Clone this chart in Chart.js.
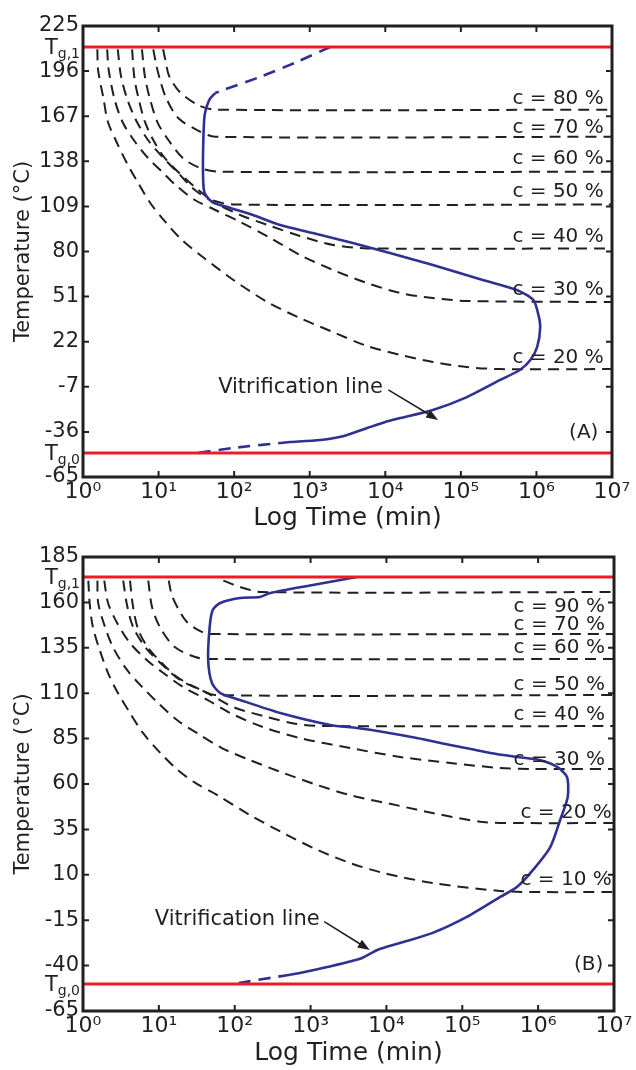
<!DOCTYPE html>
<html>
<head>
<meta charset="utf-8">
<script src="https://cdn.jsdelivr.net/npm/chart.js@4.4.1/dist/chart.umd.min.js"></script>
<style>
  body { margin: 0; background: #fff; }
  #wrap { position: relative; width: 636px; height: 1070px; }
  .box { position: absolute; left: 0; width: 636px; height: 535px; }
</style>
</head>
<body>
<div id="wrap">
  <div class="box" style="top:0"><canvas id="chartA"></canvas></div>
  <div class="box" style="top:535px"><canvas id="chartB"></canvas></div>
</div>
<script>
// x is log10(time / min), y is temperature in °C
const timeTicks = [0, 1, 2, 3, 4, 5, 6, 7];
const tempTicksA = [-65, -36, -7, 22, 51, 80, 109, 138, 167, 196, 225];
const tempTicksB = [-65, -40, -15, 10, 35, 60, 85, 110, 135, 160, 185];
const tgA = [-49.6, 211.5];   // Tg,0 / Tg,1
const tgB = [-50.1, 174.0];

// panel A: iso-conversion curves
const a20 = [[0.19,210],[0.20,196.7],[0.27,178.7],[0.33,163.3],[0.45,149.8],[0.58,136.9],[0.73,124.0],[0.89,111.2],[1.09,99.0],[1.31,87.4],[1.55,77.8],[1.99,61.7],[2.44,47.5],[2.87,37.2],[3.31,28.2],[3.76,19.2],[4.20,13.5],[4.63,9.0],[5.08,5.7],[5.52,4.4],[7,4.4]];
const a30 = [[0.32,210],[0.34,196.7],[0.42,177.4],[0.53,162.6],[0.69,150.4],[0.86,140.1],[1.05,131.1],[1.24,122.1],[1.48,113.1],[1.75,106.7],[2.08,99.0],[2.48,88.7],[2.87,77.8],[3.31,68.1],[3.76,59.7],[4.20,53.3],[4.63,50.1],[5.08,48.2],[7,47.5]];
const a40 = [[0.46,210],[0.50,193.5],[0.58,178.7],[0.70,164.6],[0.86,151.7],[1.05,140.8],[1.26,130.5],[1.48,119.5],[1.75,111.2],[2.08,103.5],[2.48,96.4],[2.87,90.0],[3.31,84.2],[3.76,82.0],[7,82.0]];
const a50 = [[0.65,210],[0.68,191.6],[0.74,177.4],[0.82,163.3],[0.93,151.7],[1.07,140.8],[1.26,131.1],[1.48,121.5],[1.71,113.1],[2.01,110.2],[7,110.2]];
const a60 = [[0.78,210],[0.82,192.2],[0.89,177.4],[0.99,162.6],[1.13,151.7],[1.32,140.1],[1.55,133.7],[1.81,131.3],[7,131.3]];
const a70 = [[0.93,210],[0.97,199.9],[1.02,190.3],[1.10,178.7],[1.26,165.8],[1.51,158.1],[1.75,153.8],[7,153.8]];
const a80 = [[1.06,210],[1.09,203.1],[1.14,192.8],[1.28,182.6],[1.52,174.2],[1.75,171.2],[7,171.2]];

// panel A: vitrification line (solid part + dashed ends)
const vitA = [[1.75,181.9],[1.67,177.4],[1.61,167.8],[1.59,147.2],[1.59,126.0],[1.61,117.6],[1.71,111.8],[1.95,108.0],[2.25,103.5],[2.61,97.0],[3.04,91.9],[3.57,85.5],[4.06,79.0],[4.63,71.3],[5.29,61.7],[5.74,55.2],[5.96,48.8],[6.02,40.5],[6.05,31.5],[6.01,18.6],[5.92,10.2],[5.78,3.8],[5.52,-2.6],[5.08,-13.6],[4.63,-21.9],[4.20,-27.1],[4.00,-29.6],[3.76,-33.5],[3.44,-38.8],[3.14,-41.2],[2.74,-42.5]];
const vitAtop = [[3.27,211.5],[2.83,201.9],[2.34,192.2],[1.85,183.8],[1.75,181.9]];
const vitAbot = [[2.74,-42.5],[1.99,-46.3],[1.51,-49.6]];

// panel B: iso-conversion curves
const b10 = [[0.07,172],[0.09,158.6],[0.13,146.5],[0.22,133.8],[0.33,121.1],[0.46,110.1],[0.62,99.1],[0.79,88.1],[1.02,77.1],[1.25,67.7],[1.48,60.6],[1.77,53.9],[2.20,42.9],[2.64,33.0],[3.09,23.7],[3.52,16.5],[3.96,11.0],[4.61,5.5],[5.50,1.1],[6.02,0.5],[7,0.5]];
const b20 = [[0.19,172],[0.20,159.7],[0.29,146.5],[0.40,134.9],[0.58,122.8],[0.78,113.4],[0.99,104.6],[1.24,95.2],[1.50,88.1],[1.83,79.8],[2.20,73.2],[2.64,66.1],[3.09,59.4],[3.52,53.9],[4.18,47.9],[4.61,44.0],[5.27,39.1],[5.76,38.5],[7,38.5]];
const b30 = [[0.28,172],[0.33,159.7],[0.45,148.7],[0.62,137.6],[0.84,128.3],[1.06,121.1],[1.32,113.4],[1.64,106.3],[1.94,99.1],[2.37,91.4],[2.86,85.3],[3.52,79.8],[4.18,74.9],[4.84,71.6],[5.50,68.8],[5.89,68.3],[7,68.3]];
const b40 = [[0.53,172],[0.58,158.6],[0.66,146.5],[0.82,135.4],[1.02,126.6],[1.28,117.3],[1.64,110.1],[1.98,102.4],[2.43,96.9],[2.82,93.0],[3.26,91.9],[7,91.9]];
const b50 = [[0.62,172],[0.66,157.5],[0.73,144.8],[0.86,134.9],[1.04,126.6],[1.24,118.9],[1.50,112.9],[1.74,109.0],[7,109.0]];
const b60 = [[0.86,172],[0.91,157.5],[1.02,145.9],[1.21,135.4],[1.48,129.9],[1.67,128.8],[7,128.8]];
const b70 = [[1.13,172],[1.17,164.1],[1.25,156.9],[1.37,149.2],[1.54,144.3],[1.67,142.6],[7,142.6]];
const b90 = [[1.85,172],[2.07,168.5],[2.36,165.7],[7,165.7]];

// panel B: vitrification line
const vitB = [[3.61,174.0],[3.03,169.6],[2.47,165.2],[2.33,163.0],[2.07,162.4],[1.81,159.7],[1.71,155.8],[1.67,146.5],[1.65,128.3],[1.70,115.6],[1.81,110.1],[2.07,106.3],[2.60,99.1],[3.26,92.5],[3.61,90.8],[3.96,88.6],[4.40,85.3],[4.84,81.5],[5.37,77.1],[5.72,74.9],[6.02,73.2],[6.25,69.4],[6.38,63.9],[6.39,52.8],[6.29,40.2],[6.16,25.3],[5.93,12.6],[5.72,3.3],[5.50,-2.2],[5.06,-13.2],[4.61,-22.0],[4.18,-27.6],[3.88,-31.4],[3.68,-35.8],[3.22,-40.8],[2.86,-44.1],[2.73,-45.0]];
const vitBbot = [[2.73,-45.0],[1.98,-50.1]];

// curve labels and where they sit (temperature of label centre)
const levelsA = ['c = 80 %', 'c = 70 %', 'c = 60 %', 'c = 50 %', 'c = 40 %', 'c = 30 %', 'c = 20 %'];
const levelTempA = [178.1, 159.4, 139.5, 118.3, 89.3, 55.2, 11.5];
const levelsB = ['c = 90 %', 'c = 70 %', 'c = 60 %', 'c = 50 %', 'c = 40 %', 'c = 30 %', 'c = 20 %', 'c = 10 %'];
const levelTempB = [157.5, 147.6, 134.9, 114.5, 98.0, 73.2, 44.0, 7.1];

const ink = '#231f20';
const blue = '#2e3192';
const red = '#ed1c24';
const fam = '"DejaVu Sans", "Open Sans", sans-serif';
const sup = ['\u2070', '\u00b9', '\u00b2', '\u00b3', '\u2074', '\u2075', '\u2076', '\u2077'];

const pts = arr => arr.map(([x, y]) => ({ x, y }));

function line(data, color, width, dash) {
  return {
    data: pts(data), showLine: true, borderColor: color, borderWidth: width,
    borderDash: dash || [], pointRadius: 0, tension: color === ink ? 0.3 : 0.25, fill: false
  };
}

function overlay(o) {
  return {
    id: 'overlay',
    afterDatasetsDraw(chart) {
      const { ctx, chartArea: a, scales: { x, y } } = chart;
      ctx.save();
      ctx.strokeStyle = ink;
      ctx.fillStyle = ink;

      // ticks drawn inward on all four sides
      ctx.lineWidth = 2;
      ctx.beginPath();
      x.ticks.forEach(t => {
        const px = x.getPixelForValue(t.value);
        if (px < a.left + 2 || px > a.right - 2) return;
        ctx.moveTo(px, a.bottom); ctx.lineTo(px, a.bottom - 6);
        ctx.moveTo(px, a.top); ctx.lineTo(px, a.top + 6);
      });
      y.ticks.forEach(t => {
        const py = y.getPixelForValue(t.value);
        if (py < a.top + 2 || py > a.bottom - 2) return;
        ctx.moveTo(a.left, py); ctx.lineTo(a.left + 6, py);
        ctx.moveTo(a.right, py); ctx.lineTo(a.right - 6, py);
      });
      ctx.stroke();
      ctx.lineWidth = 3;
      ctx.strokeRect(a.left, a.top, a.right - a.left, a.bottom - a.top);

      // Tg labels on the y axis
      o.tg.forEach((v, i) => {
        const py = y.getPixelForValue(v);
        const sub = i === 0 ? 'g,0' : 'g,1';
        ctx.textAlign = 'right';
        ctx.textBaseline = 'alphabetic';
        ctx.font = '14px ' + fam;
        const w = ctx.measureText(sub).width;
        ctx.fillText(sub, a.left - 3, py + 11);
        ctx.font = '21px ' + fam;
        ctx.fillText('T', a.left - 3 - w, py + 7);
      });

      // conversion labels
      ctx.font = '20px ' + fam;
      ctx.textAlign = 'right';
      ctx.textBaseline = 'middle';
      o.levels.forEach((s, i) => {
        ctx.fillText(s, x.getPixelForValue(o.levelX[i]), y.getPixelForValue(o.levelT[i]));
      });

      // panel letter
      ctx.fillText(o.letter, x.getPixelForValue(o.letterAt[0]), y.getPixelForValue(o.letterAt[1]));

      // vitrification note + arrow
      ctx.font = '21px ' + fam;
      ctx.fillText('Vitrification line', x.getPixelForValue(o.noteAt[0]), y.getPixelForValue(o.noteAt[1]));
      const x0 = x.getPixelForValue(o.arrow[0]), y0 = y.getPixelForValue(o.arrow[1]);
      const x1 = x.getPixelForValue(o.arrow[2]), y1 = y.getPixelForValue(o.arrow[3]);
      const ang = Math.atan2(y1 - y0, x1 - x0);
      ctx.lineWidth = 1.6;
      ctx.beginPath();
      ctx.moveTo(x0, y0);
      ctx.lineTo(x1 - 8 * Math.cos(ang), y1 - 8 * Math.sin(ang));
      ctx.stroke();
      ctx.beginPath();
      ctx.moveTo(x1, y1);
      ctx.lineTo(x1 - 12 * Math.cos(ang) + 4.5 * Math.sin(ang), y1 - 12 * Math.sin(ang) - 4.5 * Math.cos(ang));
      ctx.lineTo(x1 - 12 * Math.cos(ang) - 4.5 * Math.sin(ang), y1 - 12 * Math.sin(ang) + 4.5 * Math.cos(ang));
      ctx.closePath();
      ctx.fill();
      ctx.restore();
    }
  };
}

function panel(id, p) {
  const datasets = [
    line([[0, p.tg[0]], [7, p.tg[0]]], red, 3),
    line([[0, p.tg[1]], [7, p.tg[1]]], red, 3),
    line(p.vit, blue, 2.6),
    ...p.vitDash.map(d => line(d, blue, 2.6, [12, 8])),
    ...p.curves.map(c => line(c, ink, 2, [11, 7]))
  ];
  return new Chart(document.getElementById(id), {
    type: 'scatter',
    data: { datasets },
    options: {
      responsive: true,
      maintainAspectRatio: false,
      animation: false,
      layout: { padding: { top: p.top, right: p.right, left: 0, bottom: 0 } },
      plugins: { legend: { display: false }, tooltip: { enabled: false } },
      scales: {
        x: {
          type: 'linear', min: 0, max: 7,
          afterBuildTicks: s => { s.ticks = timeTicks.map(v => ({ value: v })); },
          afterFit: s => { s.height = p.xh; },
          grid: { display: false, drawTicks: false },
          border: { display: false },
          ticks: { color: ink, font: { family: fam, size: 22 }, padding: 2, maxRotation: 0, autoSkip: false,
                   callback: v => '10' + sup[v] },
          title: { display: true, text: 'Log Time (min)', color: ink, font: { family: fam, size: 25 },
                   padding: { top: 0, bottom: 2 } }
        },
        y: {
          type: 'linear', min: p.yTicks[0], max: p.yTicks[p.yTicks.length - 1],
          afterBuildTicks: s => { s.ticks = p.yTicks.map(v => ({ value: v })); },
          afterFit: s => { s.width = 83; },
          grid: { display: false, drawTicks: false },
          border: { display: false },
          ticks: { color: ink, font: { family: fam, size: 21 }, padding: 4, autoSkip: false },
          title: { display: true, text: 'Temperature (\u00b0C)', color: ink, font: { family: fam, size: 21 },
                   padding: { top: 11, bottom: 0 } }
        }
      }
    },
    plugins: [overlay(p.notes)]
  });
}

panel('chartA', {
  top: 26, right: 24, xh: 58, yTicks: tempTicksA, tg: tgA,
  vit: vitA, vitDash: [vitAtop, vitAbot],
  curves: [a20, a30, a40, a50, a60, a70, a80],
  notes: {
    tg: tgA, levels: levelsA, levelT: levelTempA, levelX: levelsA.map(() => 6.89),
    letter: '(A)', letterAt: [6.82, -36.7],
    noteAt: [3.97, -7.8], arrow: [4.04, -9.0, 4.70, -28.3]
  }
});

panel('chartB', {
  top: 22, right: 22, xh: 59, yTicks: tempTicksB, tg: tgB,
  vit: vitB, vitDash: [vitBbot],
  curves: [b10, b20, b30, b40, b50, b60, b70, b90],
  notes: {
    tg: tgB, levels: levelsB, levelT: levelTempB, levelX: [6.88, 6.88, 6.88, 6.88, 6.88, 6.88, 6.97, 6.97],
    letter: '(B)', letterAt: [6.86, -39.7],
    noteAt: [3.12, -14.9], arrow: [3.18, -15.8, 3.78, -31.4]
  }
});
</script>
</body>
</html>
